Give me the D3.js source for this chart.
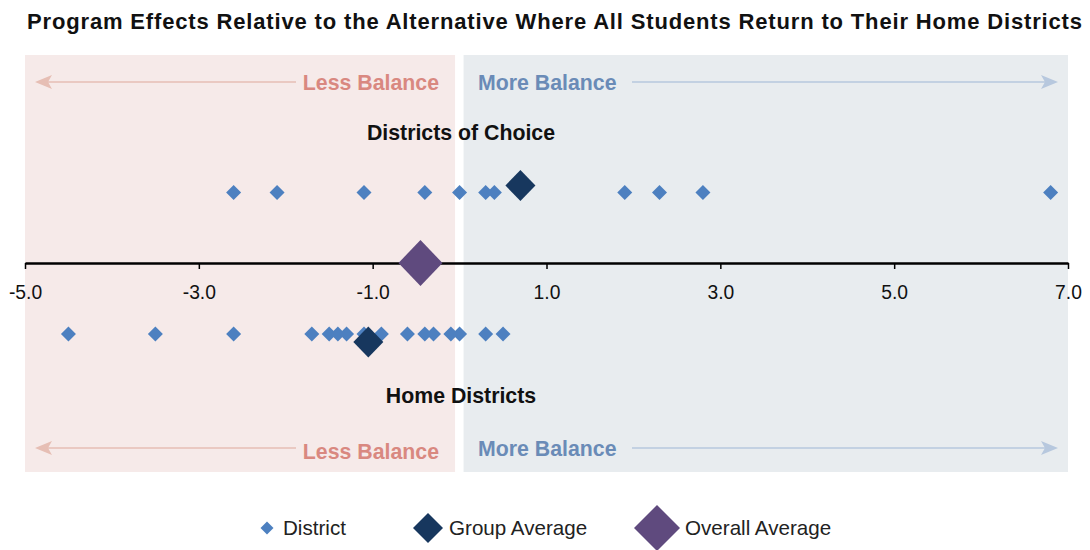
<!DOCTYPE html>
<html>
<head>
<meta charset="utf-8">
<script src="https://cdn.jsdelivr.net/npm/d3@7"></script>
<style>
  body { margin: 0; background: #fff; }
  text { font-family: "Liberation Sans", Arial, Helvetica, sans-serif; }
</style>
</head>
<body>
<svg id="chart" width="1090" height="550"></svg>
<script>
// data
var choiceDistricts = [-2.6, -2.1, -1.1, -0.4, 0.0, 0.3, 0.4, 1.9, 2.3, 2.8, 6.8];
var homeDistricts = [-4.5, -3.5, -2.6, -1.7, -1.5, -1.4, -1.3, -1.1, -0.9, -0.6, -0.4, -0.3, -0.1, 0.0, 0.3, 0.5];
var choiceAverage = 0.7;
var homeAverage = -1.05;
var overallAverage = -0.45;
var tickValues = [-5, -3, -1, 1, 3, 5, 7];
var legendItems = ["District", "Group Average", "Overall Average"];

var svg = d3.select("#chart");

var x = d3.scaleLinear().domain([-5, 7]).range([25, 1068]);
var axisY = 263;
var panelTop = 55, panelBottom = 472;

// diamond path with half-width w and half-height h
function diamond(cx, cy, w, h) {
  return "M" + cx + "," + (cy - h) + "L" + (cx + w) + "," + cy +
         "L" + cx + "," + (cy + h) + "L" + (cx - w) + "," + cy + "Z";
}

// background panels
svg.append("rect")
  .attr("x", x(-5)).attr("y", panelTop)
  .attr("width", x(0) - 4.5 - x(-5)).attr("height", panelBottom - panelTop)
  .attr("fill", "#f6eae9");
svg.append("rect")
  .attr("x", x(0) + 4).attr("y", panelTop)
  .attr("width", x(7) - x(0) - 4).attr("height", panelBottom - panelTop)
  .attr("fill", "#e8ecef");

// title
svg.append("text")
  .attr("x", 27).attr("y", 29)
  .attr("font-size", 22).attr("font-weight", "bold")
  .attr("textLength", 1055).attr("lengthAdjust", "spacing")
  .attr("fill", "#111")
  .text("Program Effects Relative to the Alternative Where All Students Return to Their Home Districts");

// balance labels and arrows
function balanceRow(yLess, yMore, yArrow) {
  svg.append("text")
    .attr("x", 439).attr("y", yLess + 7.5)
    .attr("text-anchor", "end")
    .attr("font-size", 21.3).attr("font-weight", "bold")
    .attr("fill", "#d98880")
    .text("Less Balance");
  svg.append("text")
    .attr("x", 478).attr("y", yMore + 7.5)
    .attr("text-anchor", "start")
    .attr("font-size", 21.3).attr("font-weight", "bold")
    .attr("fill", "#6a8bb7")
    .text("More Balance");

  svg.append("line")
    .attr("x1", 48).attr("x2", 296)
    .attr("y1", yArrow).attr("y2", yArrow)
    .attr("stroke", "#e6beb4").attr("stroke-width", 1.3);
  svg.append("path")
    .attr("d", "M35," + yArrow + "L52," + (yArrow - 7) + "L48," + yArrow + "L52," + (yArrow + 7) + "Z")
    .attr("fill", "#e6beb4");

  svg.append("line")
    .attr("x1", 632).attr("x2", 1045)
    .attr("y1", yArrow).attr("y2", yArrow)
    .attr("stroke", "#b7c8de").attr("stroke-width", 1.3);
  svg.append("path")
    .attr("d", "M1058," + yArrow + "L1041," + (yArrow - 7) + "L1045," + yArrow + "L1041," + (yArrow + 7) + "Z")
    .attr("fill", "#b7c8de");
}
balanceRow(82, 82, 82);
balanceRow(451, 448, 448);

// group labels
svg.append("text")
  .attr("x", 461).attr("y", 140)
  .attr("text-anchor", "middle")
  .attr("font-size", 21.3).attr("font-weight", "bold")
  .attr("fill", "#111")
  .text("Districts of Choice");
svg.append("text")
  .attr("x", 461).attr("y", 403)
  .attr("text-anchor", "middle")
  .attr("font-size", 21.3).attr("font-weight", "bold")
  .attr("fill", "#111")
  .text("Home Districts");

// axis
var axis = d3.axisBottom(x)
  .tickValues(tickValues)
  .tickFormat(d3.format(".1f"))
  .tickSize(6)
  .tickSizeOuter(0);
var gAxis = svg.append("g")
  .attr("transform", "translate(0," + axisY + ")")
  .call(axis);
gAxis.select(".domain").attr("stroke", "#000").attr("stroke-width", 2.5);
gAxis.selectAll(".tick line").attr("stroke", "#000").attr("stroke-width", 1.5);
gAxis.selectAll(".tick text")
  .attr("font-family", "Liberation Sans, Arial, sans-serif")
  .attr("font-size", 19.3).attr("fill", "#111")
  .attr("dy", 0).attr("y", 36);
// "-5.0" label uses a hyphen like the original
gAxis.selectAll(".tick text").text(function(d) { return d.toFixed(1); });

// district points
svg.selectAll("path.choice")
  .data(choiceDistricts).enter().append("path")
  .attr("class", "choice")
  .attr("d", function(d) { return diamond(x(d), 192.5, 7.5, 7.5); })
  .attr("fill", "#4d80c0");
svg.selectAll("path.home")
  .data(homeDistricts).enter().append("path")
  .attr("class", "home")
  .attr("d", function(d) { return diamond(x(d), 334, 7.5, 7.5); })
  .attr("fill", "#4d80c0");

// group averages
svg.append("path")
  .attr("d", diamond(x(choiceAverage), 185.5, 15, 15.5))
  .attr("fill", "#17375e");
svg.append("path")
  .attr("d", diamond(x(homeAverage), 342, 15, 15.5))
  .attr("fill", "#17375e");

// overall average
svg.append("path")
  .attr("d", diamond(x(overallAverage), axisY, 22, 23))
  .attr("fill", "#5f4a7e");

// legend
var legendX = [267, 428, 657];
var legendW = [6.5, 15, 23];
var legendText = [283, 449, 685];
legendItems.forEach(function(name, i) {
  svg.append("path")
    .attr("d", diamond(legendX[i], 528, legendW[i], legendW[i]))
    .attr("fill", ["#4d80c0", "#17375e", "#5f4a7e"][i]);
  svg.append("text")
    .attr("x", legendText[i]).attr("y", 535)
    .attr("font-size", 20.6)
    .attr("fill", "#222")
    .text(name);
});
</script>
</body>
</html>
